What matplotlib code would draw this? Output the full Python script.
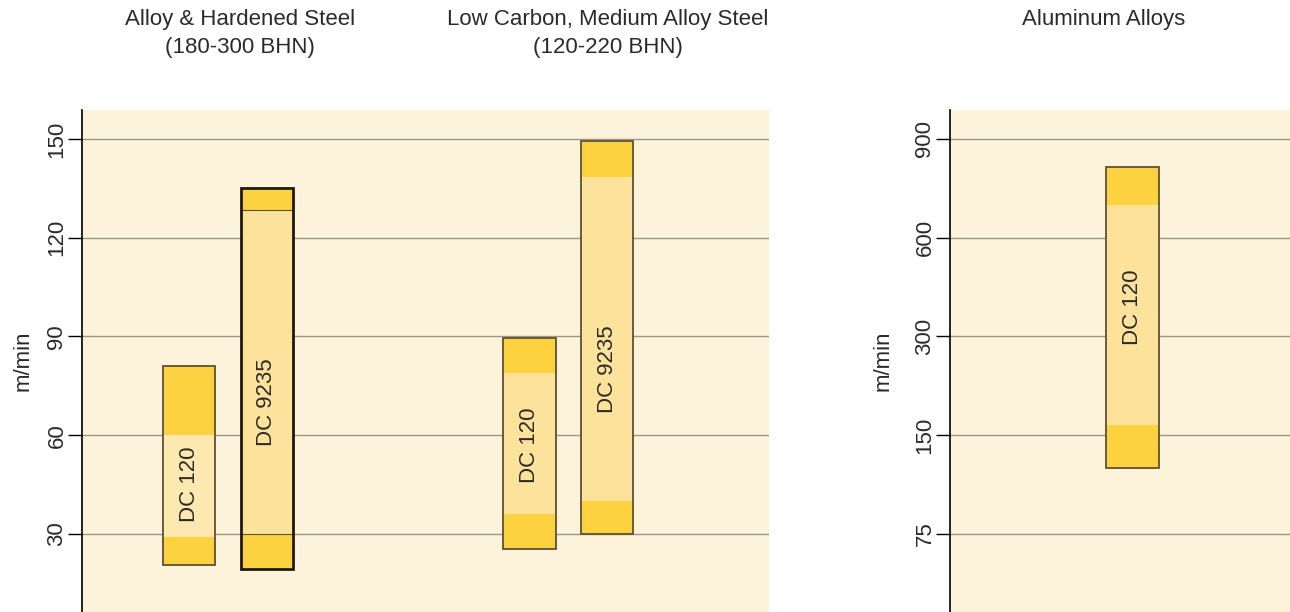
import numpy as np
import matplotlib
matplotlib.use("Agg")
import matplotlib.pyplot as plt

plt.rcParams["font.family"] = ["Liberation Sans", "DejaVu Sans"]

# steel panel: two material groups, two grades each
steel_groups = ["Alloy & Hardened Steel\n(180-300 BHN)",
                "Low Carbon, Medium Alloy Steel\n(120-220 BHN)"]
steel_grades = ["DC 120", "DC 9235"]
# [group][grade] -> speed range in m/min
steel_min = [[20.5, 19.5], [25.5, 30]]
steel_opt_lo = [[29, 30], [36, 40]]
steel_opt_hi = [[60, 128.5], [79, 138.5]]
steel_max = [[81, 135], [89.5, 149.5]]
steel_label_at = [[45, 70], [57, 80]]
steel_ticks = [30, 60, 90, 120, 150]

# aluminium panel
alu_title = "Aluminum Alloys"
alu_grade = "DC 120"
alu_min, alu_opt_lo, alu_opt_hi, alu_max = 125, 165, 700, 815
alu_label_at = 390
alu_ticks = [75, 150, 300, 600, 900]

BG = "#fdf3da"
DARK = "#fdd240"
LIGHT = "#fde29c"
LIGHTER = "#fde8b0"
EDGE = "#5e5033"
GRID = "#9c978a"
TXT = "#2a2a2a"
W = 0.153
OFF = 0.1145

fig = plt.figure(figsize=(12.9, 6.12), dpi=100)
ax1 = fig.add_axes([82 / 1290, 0, 687 / 1290, 502 / 612])
ax2 = fig.add_axes([950 / 1290, 0, 340 / 1290, 502 / 612])


def style(ax):
    ax.set_facecolor(BG)
    for s in ["top", "right", "bottom"]:
        ax.spines[s].set_visible(False)
    ax.spines["left"].set_color("black")
    ax.spines["left"].set_linewidth(1.2)
    ax.set_xticks([])
    ax.tick_params(axis="y", length=10, width=1, color="black", pad=0.5,
                   labelsize=16, labelrotation=90, labelcolor=TXT)
    ax.yaxis.grid(True, color=GRID, lw=1)
    ax.set_axisbelow(True)
    ax.set_ylabel("m/min", fontsize=16, color=TXT)


def draw_bar(ax, x, lo, olo, ohi, hi, label, ly, light=LIGHT, inner_lines=False):
    ax.bar(x, hi - lo, bottom=lo, width=W, color=DARK, lw=0, zorder=2)
    ax.bar(x, ohi - olo, bottom=olo, width=W, color=light, lw=0, zorder=3)
    if inner_lines:
        ax.bar(x, ohi - olo, bottom=olo, width=W, fill=False,
               edgecolor=EDGE, lw=0.8, zorder=3.5)
    ax.bar(x, hi - lo, bottom=lo, width=W, fill=False,
           edgecolor="#1e1a10" if inner_lines else EDGE,
           lw=2 if inner_lines else 1.3, zorder=4)
    ax.text(x, ly, label, rotation=90, ha="center", va="center",
            fontsize=16, color=TXT, zorder=5)


# left panel
style(ax1)
for g in range(len(steel_groups)):
    for k, grade in enumerate(steel_grades):
        x = g + (k - 0.5) * 2 * OFF
        draw_bar(ax1, x, steel_min[g][k], steel_opt_lo[g][k],
                 steel_opt_hi[g][k], steel_max[g][k], grade,
                 steel_label_at[g][k],
                 light=LIGHTER if (g, k) == (0, 0) else LIGHT,
                 inner_lines=(g, k) == (0, 1))
ax1.set_xlim(-0.4288, 1.589)
ax1.set_yticks(steel_ticks)
ax1.set_ylim(6.3, 158.8)
ax1.yaxis.set_label_coords(-0.07, 0.5)

# right panel: tick values evenly spaced, piecewise scale
speed_pts = [0, 75, 150, 300, 600, 900, 1200]
pos_pts = [0, 30, 60, 90, 120, 150, 180]


def fwd(v):
    return np.interp(v, speed_pts, pos_pts)


def inv(p):
    return np.interp(p, pos_pts, speed_pts)


style(ax2)
ax2.set_yscale("function", functions=(fwd, inv))
draw_bar(ax2, 0, alu_min, alu_opt_lo, alu_opt_hi, alu_max, alu_grade, alu_label_at)
ax2.set_xlim(-0.536, 0.4626)
ax2.set_yticks(alu_ticks)
ax2.yaxis.set_minor_locator(matplotlib.ticker.NullLocator())
ax2.set_yticklabels([str(t) for t in alu_ticks])
ax2.set_ylim(inv(6.3), inv(158.8))
ax2.yaxis.set_label_coords(-0.165, 0.5)
for t in ax1.get_yticklabels() + ax2.get_yticklabels():
    t.set_va("center")

# panel titles
title_x = [240, 608]
for tx, title in zip(title_x, steel_groups):
    fig.text(tx / 1290, 1 - 9 / 612, title, ha="center", va="top",
             fontsize=16, color=TXT, linespacing=1.45)
fig.text(1104 / 1290, 1 - 9 / 612, alu_title, ha="center", va="top",
         fontsize=16, color=TXT)

fig.savefig("out.png", dpi=100)
